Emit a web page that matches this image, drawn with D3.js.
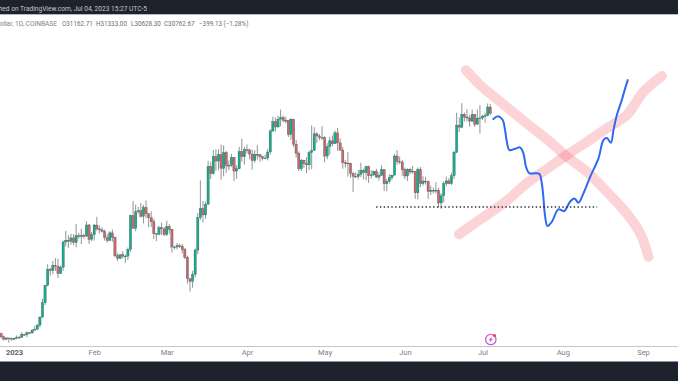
<!DOCTYPE html>
<html><head><meta charset="utf-8">
<script src="https://cdnjs.cloudflare.com/ajax/libs/d3/7.8.5/d3.min.js"></script>
<style>html,body{margin:0;padding:0;background:#fff;overflow:hidden}svg{display:block;font-family:Roboto,sans-serif}</style>
</head><body><svg id="c" width="678" height="381"></svg>
<script>
// Daily candles start 27 Dec 2022 (day -5 relative to 1 Jan 2023)
const firstDay = -5, firstOpen = 16910;
const closes = [16700,16540,16630,16600,16540,
16615,16670,16665,16850,16825,16950,16940,17120,17180,17440,17940,18850,19930,20950,20880,21190,21140,20680,21080,22670,22780,22710,22920,22630,23060,23010,23075,23030,23740,22830,23130,
23730,23490,23430,23330,22940,22760,23240,22960,21800,21630,21860,21780,21780,22200,24330,23520,24570,24630,24280,24840,24440,24190,23940,23190,23160,23560,23490,23140,
23630,23470,22350,22350,22430,22410,22200,21700,20360,20190,20630,22160,24200,24770,24370,25050,27420,26970,28040,27760,28170,27300,28300,27490,27490,27990,27130,27270,28350,28030,28470,
28460,28200,27800,28170,28170,28040,27920,27950,28330,29650,30230,29900,30400,30490,30320,30320,29440,30390,28820,28250,27270,27820,27600,27520,28300,28420,29470,29340,29250,29230,
28070,28670,29030,28850,29530,28900,28450,27660,27630,27620,26980,26800,26780,26920,27170,27030,27400,26830,26890,27110,26750,26850,27220,26330,26470,26720,26870,28080,27740,27700,27210,
26820,27250,27070,27120,25760,27230,26340,26500,26480,25850,25920,25900,25920,25120,25580,26340,26510,26340,26840,28310,30020,29890,30690,30530,30470,30270,30690,30080,30450,30470,
30590,30620,31160,30762.67];
const highs = [16950,16780,16650,16630,16640,
16630,16790,16770,16990,16880,17040,16990,17180,17400,17490,18000,19100,19970,21260,21040,21470,21650,21600,21190,22750,23370,23080,23170,23160,23810,23240,23500,23180,23960,23790,23300,
23810,24250,23700,23590,23440,23160,23350,23450,23010,21950,21900,22090,21880,22320,24380,25250,25020,24880,25120,25000,25280,24470,24600,24120,23220,23690,23880,23600,
24000,23780,23480,22420,22610,22550,22540,22280,21800,20370,20850,22270,24500,26540,25250,25200,27770,27720,28450,28500,28500,28800,28750,28400,27800,28200,28020,27500,28650,29170,28660,
28800,28530,28480,28440,28760,28190,28100,28170,28530,29770,30550,30500,30610,31000,30620,30540,30320,30480,30410,29080,28370,27880,27820,28000,28400,30000,29890,29580,29450,29950,
29330,28880,29270,29370,29680,29850,29180,28650,27830,28330,27650,27070,27050,27200,27660,27270,27480,27470,27190,27150,27280,27050,27490,27220,26630,26930,26900,28200,28450,28050,27830,
27340,27300,27340,27450,27130,27350,27390,26810,26780,26530,26200,26090,26430,26080,25750,26480,26780,26690,27030,28400,30800,30500,31400,30800,31030,30660,31000,30700,31000,31280,
30660,30800,31380,31333];
const lows = [16590,16470,16490,16340,16470,
16490,16550,16600,16650,16750,16670,16910,16910,17100,17140,17300,17900,18700,19880,20550,20650,20840,20400,20660,20860,22400,22300,22500,22460,22330,22880,22540,22880,23000,22550,22720,
22760,23370,23210,23260,22760,22630,22740,22680,21700,21470,21590,21630,21350,21530,22050,23510,23350,24440,24200,23840,24150,23590,23610,22850,22720,23090,23110,23030,
23030,23200,22000,22200,22200,22290,21950,21590,20040,19550,19780,20440,21900,24050,23900,24120,25000,26630,26900,27150,27170,26600,26800,27020,27190,27400,26510,26630,27250,27710,27530,
28240,27870,27220,27660,27850,27720,27790,27880,27800,28170,29600,29620,29880,29950,30220,30140,29270,29100,28650,27980,27130,27130,27330,27000,27200,27250,28400,28900,29070,29100,
27670,27870,28150,28680,28830,28400,28400,27280,27350,26780,26700,25810,26700,26600,26750,26610,26550,26380,26650,26820,26700,26530,26820,25880,25870,26340,26560,26860,27530,27560,26850,
26610,26510,26920,26960,25380,25350,26120,26200,26280,25370,25620,25720,25720,24830,24760,25160,26180,26300,26250,26640,28260,29580,29820,30250,30270,29930,30220,29900,30040,29500,
30340,30170,30570,30628];
const tickLabels = ["2023","Feb","Mar","Apr","May","Jun","Jul","Aug","Sep"];
const tickDays = [0,31,59,90,120,151,181,212,243];
// Hand drawings, as [day, price]
const forecastPath = [[185.2,30400],[187.1,30570],[188.8,30340],[189.7,29710],[190.4,28970],[191.4,28450],[193.6,28530],[195.5,28620],[196.8,28240],[197.8,27400],[199.1,26990],[201.3,26990],[203,26940],[203.9,26360],[204.5,25510],[205.2,24260],[206.1,23670],[207.8,23940],[210.3,24720],[212.5,24610],[214.8,25200],[216.5,25410],[218.1,25140],[220,25730],[222.6,26770],[225.8,27930],[227.7,29080],[229,29210],[230.6,28910],[231.6,29710],[232.9,30650],[234.8,31600],[236.1,32330],[237.1,32850]];
const crossA = [[174.6,33480],[180.1,32540],[187.8,31490],[198.1,30130],[207.1,28970],[213.6,28030],[221.3,27090],[229,25830],[236.7,24470],[241.9,23210],[245.1,21740]];
const crossB = [[171.9,23150],[178.8,23940],[189.1,25100],[198.1,26360],[207.1,27400],[213.6,28140],[221.3,28970],[229,29820],[236.7,30650],[243.2,32120],[250.3,33110]];
const supportPrice = 24870, supportDays = [139.9,225.3];
const headerText = "Bitcoin / U.S. Dollar, 1D, COINBASE";
const ohlcLabels = ["O31162.71","H31333.00","L30628.30","C30762.67","\u2212399.13 (\u22121.28%)"];

const W=678,H=381;
const svg=d3.select("#c");
const x=d3.scaleLinear().domain([0,243]).range([14,643]);
const y=d3.scaleLinear().domain([16500,31160]).range([340,107]);
const DARK="#1e222d", UP="#14ad8e", DOWN="#c9686b", TXT="#7d808b";

// chrome
svg.append("rect").attr("width",W).attr("height",14).attr("fill",DARK);
svg.append("rect").attr("y",14).attr("width",W).attr("height",1).attr("fill","#b8bbc4");
svg.append("rect").attr("y",362).attr("width",W).attr("height",19).attr("fill",DARK);
svg.append("rect").attr("y",361).attr("width",W).attr("height",1).attr("fill","#8d9099");
svg.append("rect").attr("y",346).attr("width",W).attr("height",1).attr("fill","#c4c6cc");
svg.append("text").attr("x",147).attr("y",11).attr("text-anchor","end").attr("font-size",6.6).attr("fill","#c3c6cf").text("Published on TradingView.com, Jul 04, 2023 15:27 UTC-5");
svg.append("text").attr("x",57).attr("y",25.5).attr("text-anchor","end").attr("font-size",6.6).attr("fill",TXT).text(headerText);
const ohlcX=[62,96,131,164,199];
svg.selectAll(".ohlc").data(ohlcLabels).join("text").attr("x",(d,i)=>ohlcX[i]).attr("y",25.5).attr("font-size",6.3).attr("fill","#6a6d78").text(d=>d);

// time axis
const ax=svg.append("g").attr("transform","translate(0,347)")
 .call(d3.axisBottom(x).tickValues(tickDays).tickSize(0).tickPadding(3).tickFormat((d,i)=>tickLabels[i]));
ax.select(".domain").remove();
ax.selectAll("text").attr("font-size",7.5).attr("fill",TXT).attr("font-family","Roboto,sans-serif")
 .attr("font-weight",(d,i)=>i==0?700:400);
ax.select("text").attr("fill","#5d606b");

// candles
const candles=closes.map((c,i)=>({day:firstDay+i,o:i?closes[i-1]:firstOpen,c,h:highs[i],l:lows[i]}));
const g=svg.append("g");
g.selectAll(".w").data(candles).join("line").attr("x1",d=>x(d.day)).attr("x2",d=>x(d.day))
 .attr("y1",d=>y(d.h)).attr("y2",d=>y(d.l)).attr("stroke","#85878c").attr("stroke-width",.9);
g.selectAll(".b").data(candles).join("rect").attr("x",d=>x(d.day)-1.15).attr("width",2.3)
 .attr("y",d=>y(Math.max(d.o,d.c))).attr("height",d=>Math.max(.8,Math.abs(y(d.o)-y(d.c))))
 .attr("fill",d=>d.c>=d.o?UP:DOWN).attr("stroke","#3d4a48").attr("stroke-width",.3);

// drawings
const line=d3.line().x(d=>x(d[0])).y(d=>y(d[1]));
const smooth=line.curve(d3.curveCatmullRom.alpha(.5));
[crossA,crossB].forEach(p=>svg.append("path").attr("d",smooth(p)).attr("fill","none")
 .attr("stroke","#f23645").attr("stroke-opacity",.21).attr("stroke-width",10).attr("stroke-linecap","round"));
svg.append("path").attr("d",smooth(forecastPath)).attr("fill","none").attr("stroke","#3068f2").attr("stroke-width",2).attr("stroke-linecap","round");
svg.append("line").attr("x1",x(supportDays[0])).attr("x2",x(supportDays[1])).attr("y1",y(supportPrice)).attr("y2",y(supportPrice))
 .attr("stroke","#2a2e39").attr("stroke-width",1.4).attr("stroke-dasharray","1.4 2.4");

// event marker
const mk=svg.append("g").attr("transform",`translate(${x(184.2)},339.5)`);
mk.append("circle").attr("r",5.2).attr("fill","#fff").attr("stroke","#c85fd6").attr("stroke-width",1.3);
mk.append("path").attr("d","M1.5,-3.6L-2.4,0.7H-0.2L-1.5,3.6L2.4,-0.8H0.2Z").attr("fill","#c85fd6");
mk.append("circle").attr("cx",3.7).attr("cy",-3.9).attr("r",1.5).attr("fill","#f23645");
</script></body></html>
